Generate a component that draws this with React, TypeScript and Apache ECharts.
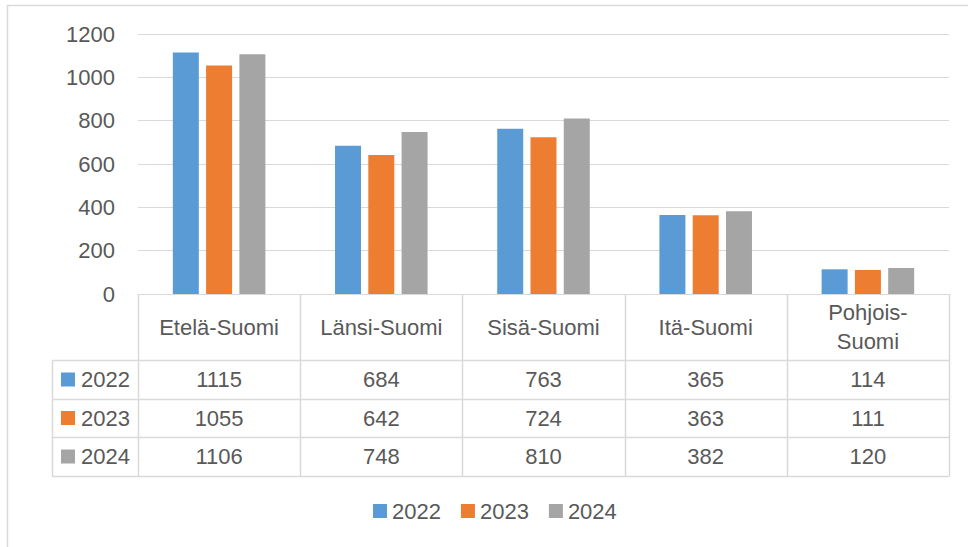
import React, { useEffect, useRef } from "react";
import * as echarts from "echarts";

const categories = ["Etelä-Suomi", "Länsi-Suomi", "Sisä-Suomi", "Itä-Suomi", "Pohjois-\nSuomi"];
const seriesNames = ["2022", "2023", "2024"];
const values2022 = [1115, 684, 763, 365, 114];
const values2023 = [1055, 642, 724, 363, 111];
const values2024 = [1106, 748, 810, 382, 120];
const seriesValues = [values2022, values2023, values2024];
const colors = ["#5B9BD5", "#ED7D31", "#A5A5A5"];
const yMin = 0;
const yMax = 1200;
const yInterval = 200;

const W = 968;
const H = 547;
const FONT = "'Liberation Sans', Arial, sans-serif";
const TEXT = "#595959";
const LINE = "#D9D9D9";

const gridLeft = 138;
const gridRight = 949;
const gridTop = 34;
const gridBottom = 294;
const headerBottom = 360;
const rowBottoms = [399, 437, 476];
const tableLeft = 52;

export default function App() {
  const ref = useRef<HTMLDivElement>(null);
  useEffect(() => {
    if (!ref.current) return;
    const chart = echarts.init(ref.current, null, { renderer: "svg", width: W, height: H });
    const baseOption: any = {
      animation: false,
      textStyle: { fontFamily: FONT },
      color: colors,
      grid: { left: gridLeft, right: W - gridRight, top: gridTop, bottom: H - gridBottom, containLabel: false },
      legend: {
        data: seriesNames,
        left: 368,
        top: 495,
        itemWidth: 14,
        itemHeight: 14,
        itemGap: 20,
        icon: "rect",
        textStyle: { fontSize: 22, color: TEXT, fontFamily: FONT, padding: [0, 0, 0, 0] },
      },
      xAxis: {
        type: "category",
        data: categories,
        axisLine: { show: true, lineStyle: { color: LINE, width: 1 } },
        axisTick: { show: false },
        axisLabel: {
          fontSize: 22,
          color: TEXT,
          fontFamily: FONT,
          margin: 33,
          verticalAlign: "middle",
          lineHeight: 29,
          interval: 0,
        },
      },
      yAxis: {
        type: "value",
        min: yMin,
        max: yMax,
        interval: yInterval,
        axisLine: { show: false },
        axisTick: { show: false },
        axisLabel: { fontSize: 22, color: TEXT, fontFamily: FONT, margin: 23, formatter: (v: number) => String(v) },
        splitLine: { lineStyle: { color: LINE, width: 1 } },
      },
      series: seriesNames.map((name, k) => ({
        name,
        type: "bar",
        data: seriesValues[k],
        barWidth: 26,
        barGap: "28%",
        itemStyle: { color: colors[k] },
      })),
    };
    chart.setOption(baseOption);

    const centers = categories.map((c, i) => chart.convertToPixel({ xAxisIndex: 0 }, i) as number);
    const cw = (gridRight - gridLeft) / categories.length;
    const graphics: any[] = [];
    graphics.push({
      type: "polyline",
      shape: { points: [[7.5, H], [7.5, 5.5], [W, 5.5]] },
      style: { stroke: LINE, lineWidth: 1.5, fill: "none" },
      silent: true,
    });
    for (let i = 0; i <= categories.length; i++) {
      const x = Math.round(centers[0] - cw / 2 + i * cw) + 0.5;
      graphics.push({
        type: "line",
        shape: { x1: x, y1: gridBottom, x2: x, y2: rowBottoms[rowBottoms.length - 1] },
        style: { stroke: LINE, lineWidth: 1.5 },
        silent: true,
      });
    }
    graphics.push({
      type: "line",
      shape: { x1: tableLeft + 0.5, y1: headerBottom, x2: tableLeft + 0.5, y2: rowBottoms[rowBottoms.length - 1] },
      style: { stroke: LINE, lineWidth: 1.5 },
      silent: true,
    });
    const hLines = [headerBottom, ...rowBottoms];
    hLines.forEach((y) => {
      graphics.push({
        type: "line",
        shape: { x1: tableLeft, y1: y + 0.5, x2: gridRight + 0.5, y2: y + 0.5 },
        style: { stroke: LINE, lineWidth: 1.5 },
        silent: true,
      });
    });
    seriesNames.forEach((name, r) => {
      const top = r === 0 ? headerBottom : rowBottoms[r - 1];
      const cy = (top + rowBottoms[r]) / 2;
      graphics.push({
        type: "rect",
        shape: { x: 61, y: cy - 7, width: 14, height: 14 },
        style: { fill: colors[r] },
        silent: true,
      });
      graphics.push({
        type: "text",
        x: 81,
        y: cy,
        style: { text: name, fontSize: 22, fontFamily: FONT, fill: TEXT, align: "left", verticalAlign: "middle" },
        silent: true,
      });
      seriesValues[r].forEach((v, i) => {
        graphics.push({
          type: "text",
          x: centers[i],
          y: cy,
          style: { text: String(v), fontSize: 22, fontFamily: FONT, fill: TEXT, align: "center", verticalAlign: "middle" },
          silent: true,
        });
      });
    });
    chart.setOption({ graphic: graphics });
    return () => chart.dispose();
  }, []);
  return <div ref={ref} style={{ position: "fixed", left: 0, top: 0, width: W, height: H, background: "#fff" }} />;
}
